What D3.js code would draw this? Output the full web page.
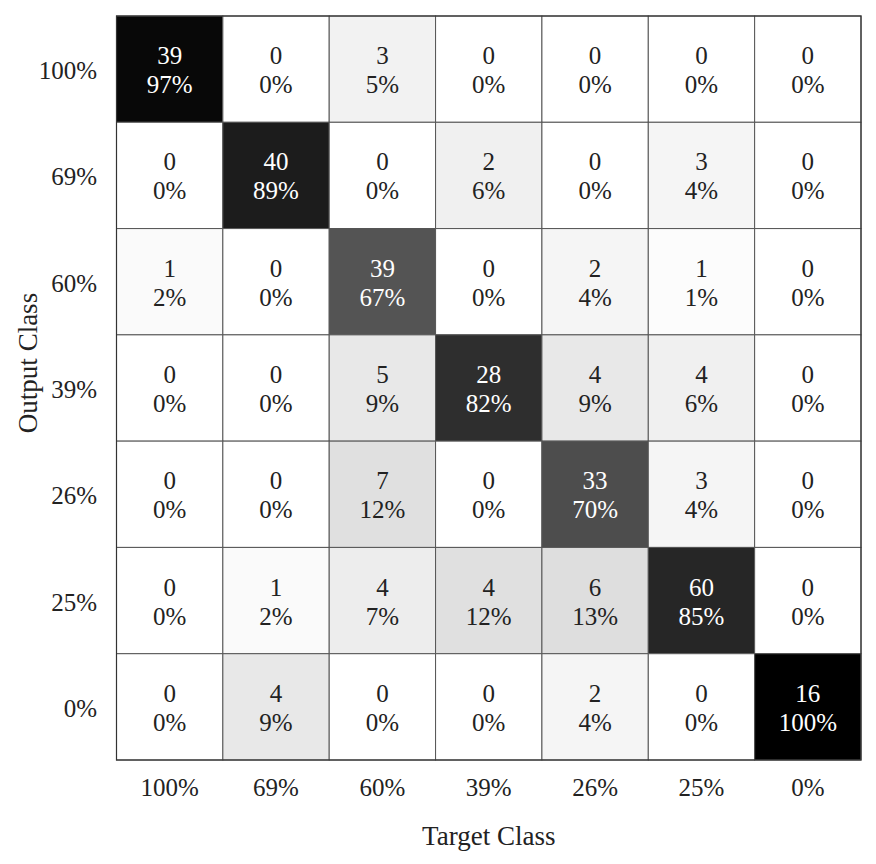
<!DOCTYPE html>
<html>
<head>
<meta charset="utf-8">
<script src="https://cdn.jsdelivr.net/npm/d3@7"></script>
<style>
  body { margin: 0; background: #fff; }
  svg text { font-family: "Liberation Serif", "DejaVu Serif", serif; }
</style>
</head>
<body>
<svg width="876" height="864"></svg>
<script>
'use strict';

// class labels (rows = output, cols = target)
var classLabels = ["100%", "69%", "60%", "39%", "26%", "25%", "0%"];

var counts = [
  [39, 0, 3, 0, 0, 0, 0],
  [0, 40, 0, 2, 0, 3, 0],
  [1, 0, 39, 0, 2, 1, 0],
  [0, 0, 5, 28, 4, 4, 0],
  [0, 0, 7, 0, 33, 3, 0],
  [0, 1, 4, 4, 6, 60, 0],
  [0, 4, 0, 0, 2, 0, 16]
];

var percents = [
  [97, 0, 5, 0, 0, 0, 0],
  [0, 89, 0, 6, 0, 4, 0],
  [2, 0, 67, 0, 4, 1, 0],
  [0, 0, 9, 82, 9, 6, 0],
  [0, 0, 12, 0, 70, 4, 0],
  [0, 2, 7, 12, 13, 85, 0],
  [0, 9, 0, 0, 4, 0, 100]
];

var svg = d3.select('svg');
var gLeft = 116.5, gTop = 16, gRight = 861, gBottom = 760;

var x = d3.scaleBand().domain(d3.range(7)).range([gLeft, gRight]);
var y = d3.scaleBand().domain(d3.range(7)).range([gTop, gBottom]);
var shade = d3.scaleLinear().domain([0, 100]).range([255, 0]);

var cells = [];
counts.forEach(function (row, i) {
  row.forEach(function (c, j) {
    cells.push({ row: i, col: j, count: c, pct: percents[i][j] });
  });
});

var g = svg.append('g').selectAll('g')
  .data(cells)
  .enter()
  .append('g');

g.append('rect')
  .attr('x', function (d) { return x(d.col); })
  .attr('y', function (d) { return y(d.row); })
  .attr('width', x.bandwidth())
  .attr('height', y.bandwidth())
  .attr('fill', function (d) { var v = Math.round(shade(d.pct)); return d3.rgb(v, v, v); })
  .attr('stroke', '#555')
  .attr('stroke-width', 1);

function textFill(d) { return d.pct > 50 ? '#fff' : '#222'; }

g.append('text')
  .attr('x', function (d) { return x(d.col) + x.bandwidth() / 2; })
  .attr('y', function (d) { return y(d.row) + y.bandwidth() / 2 - 5; })
  .attr('text-anchor', 'middle')
  .attr('font-size', 25)
  .attr('fill', textFill)
  .text(function (d) { return d.count; });

g.append('text')
  .attr('x', function (d) { return x(d.col) + x.bandwidth() / 2; })
  .attr('y', function (d) { return y(d.row) + y.bandwidth() / 2 + 24; })
  .attr('text-anchor', 'middle')
  .attr('font-size', 25)
  .attr('fill', textFill)
  .text(function (d) { return d.pct + '%'; });

// outer frame
svg.append('rect')
  .attr('x', gLeft).attr('y', gTop)
  .attr('width', gRight - gLeft).attr('height', gBottom - gTop)
  .attr('fill', 'none').attr('stroke', '#333').attr('stroke-width', 1.2);

// row labels
svg.append('g').selectAll('text')
  .data(classLabels)
  .enter()
  .append('text')
  .attr('x', 97)
  .attr('y', function (d, i) { return y(i) + y.bandwidth() / 2 + 10; })
  .attr('text-anchor', 'end')
  .attr('font-size', 25)
  .attr('fill', '#222')
  .text(function (d) { return d; });

// column labels
svg.append('g').selectAll('text')
  .data(classLabels)
  .enter()
  .append('text')
  .attr('x', function (d, i) { return x(i) + x.bandwidth() / 2; })
  .attr('y', 796)
  .attr('text-anchor', 'middle')
  .attr('font-size', 25)
  .attr('fill', '#222')
  .text(function (d) { return d; });

svg.append('text')
  .attr('x', (gLeft + gRight) / 2)
  .attr('y', 845)
  .attr('text-anchor', 'middle')
  .attr('font-size', 27)
  .attr('fill', '#222')
  .text('Target Class');

svg.append('text')
  .attr('transform', 'translate(37,363) rotate(-90)')
  .attr('text-anchor', 'middle')
  .attr('font-size', 27)
  .attr('fill', '#222')
  .text('Output Class');
</script>
</body>
</html>
